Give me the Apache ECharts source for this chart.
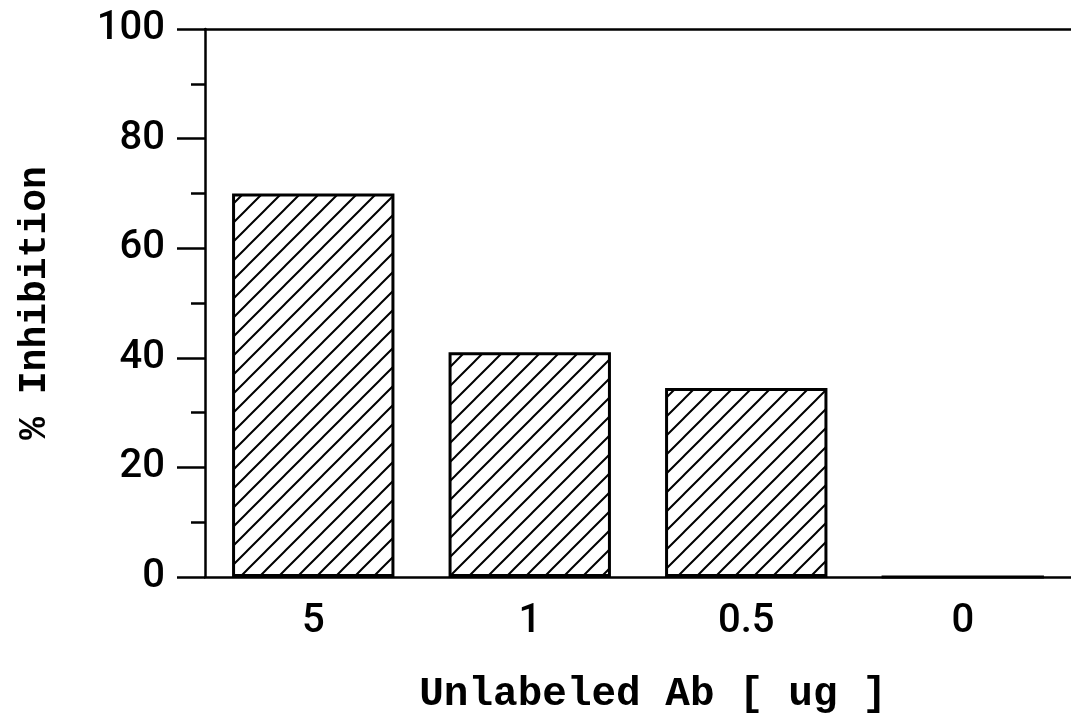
<!DOCTYPE html>
<html>
<head>
<meta charset="utf-8">
<script src="https://cdn.jsdelivr.net/npm/echarts@6/dist/echarts.min.js"></script>
<style>
html,body{margin:0;padding:0;background:#fff;}
#chart{width:1071px;height:721px;}
</style>
</head>
<body>
<div id="chart"></div>
<script>
// data
var doses = ['5', '1', '0.5', '0'];
var inhibition = [70, 41, 34.5, 0];
var yTicks = [0, 20, 40, 60, 80, 100];

var myChart = echarts.init(document.getElementById('chart'));

// diagonal hatch tile
function makeHatch() {
    var s = 19;
    var c = document.createElement('canvas');
    c.width = s;
    c.height = s;
    var ctx = c.getContext('2d');
    ctx.fillStyle = '#fff';
    ctx.fillRect(0, 0, s, s);
    ctx.strokeStyle = '#000';
    ctx.lineWidth = 2;
    ctx.beginPath();
    ctx.moveTo(-2, s + 2);
    ctx.lineTo(s + 2, -2);
    ctx.moveTo(-2, 2);
    ctx.lineTo(2, -2);
    ctx.moveTo(s - 2, s + 2);
    ctx.lineTo(s + 2, s - 2);
    ctx.stroke();
    return c;
}

var option = {
    animation: false,
    backgroundColor: '#fff',
    grid: {
        left: 205,
        right: 0,
        top: 29,
        bottom: 144,
        containLabel: false,
        outerBoundsMode: 'none'
    },
    xAxis: [{
        type: 'category',
        data: doses,
        position: 'bottom',
        axisLine: { lineStyle: { color: '#000', width: 2.5 } },
        axisTick: { show: false },
        axisLabel: {
            color: '#000',
            fontFamily: 'Roboto, Liberation Sans, sans-serif',
            fontWeight: 500,
            fontSize: 40,
            margin: 25
        },
        name: 'Unlabeled Ab [ ug ]',
        nameLocation: 'middle',
        nameGap: 97,
        nameTextStyle: {
            color: '#000',
            fontFamily: 'Liberation Mono, Courier New, monospace',
            fontWeight: 'bold',
            fontSize: 41,
            padding: [0, 0, 0, 30]
        }
    }, {
        type: 'category',
        data: doses,
        position: 'top',
        axisLine: { show: true, lineStyle: { color: '#000', width: 2.5 } },
        axisTick: { show: false },
        axisLabel: { show: false }
    }],
    yAxis: {
        type: 'value',
        min: yTicks[0],
        max: yTicks[yTicks.length - 1],
        interval: 20,
        splitLine: { show: false },
        axisLine: { show: true, lineStyle: { color: '#000', width: 2.5 } },
        axisTick: { show: true, length: 28, lineStyle: { color: '#000', width: 2.5 } },
        minorTick: { show: true, splitNumber: 2, length: 14, lineStyle: { color: '#000', width: 2.5 } },
        axisLabel: {
            color: '#000',
            fontFamily: 'Roboto, Liberation Sans, sans-serif',
            fontWeight: 500,
            fontSize: 40,
            margin: 40
        },
        name: '% Inhibition',
        nameLocation: 'middle',
        nameGap: 151,
        nameTextStyle: {
            color: '#000',
            fontFamily: 'Liberation Mono, Courier New, monospace',
            fontWeight: 'bold',
            fontSize: 38
        }
    },
    series: [{
        type: 'bar',
        data: inhibition,
        barCategoryGap: '25%',
        itemStyle: {
            color: { image: makeHatch(), repeat: 'repeat' },
            borderColor: '#000',
            borderWidth: 3
        }
    }]
};
myChart.setOption(option);

window.onresize = myChart.resize;
</script>
</body>
</html>
